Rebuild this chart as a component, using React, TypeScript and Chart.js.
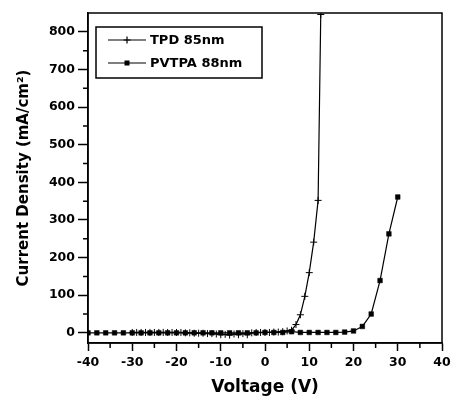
import React, { useEffect, useRef } from "react";
import { Chart, registerables } from "chart.js";

Chart.register(...registerables);

const tpdVoltage = [-30,-29,-28,-27,-26,-25,-24,-23,-22,-21,-20,-19,-18,-17,-16,-15,-14,-13,-12,-11,-10,-9,-8,-7,-6,-5,-4,-3,-2,-1,0,1,2,3,4,5,6,7,8,9,10,11,12,12.6];
const tpdCurrent = [1,1,1,1,1,1,1,1,1,1,1,1,0,0,-1,-1,-1,-2,-2,-3,-5,-4,-6,-3,-5,-2,-5,0,1,1,1,1,2,2,3,5,7,22,48,97,160,241,352,846];

const pvtpaVoltage = [-40,-38,-36,-34,-32,-30,-28,-26,-24,-22,-20,-18,-16,-14,-12,-10,-8,-6,-4,-2,0,2,4,6,8,10,12,14,16,18,20,22,24,26,28,30];
const pvtpaCurrent = [0,0,0,0,0,0,0,0,0,0,0,0,0,0,0,0,0,0,0,0,1,1,1,3,1,1,1,1,1,2,5,17,50,139,263,361];

const xTicks = [-40,-30,-20,-10,0,10,20,30,40];
const xMinorTicks = [-35,-25,-15,-5,5,15,25,35];
const yTicks = [0,100,200,300,400,500,600,700,800];
const yMinorTicks = [50,150,250,350,450,550,650,750];

const seriesNames = ["TPD 85nm", "PVTPA 88nm"];

const FONT = "DejaVu Sans";

const framePlugin = {
  id: "frame",
  afterDraw(chart: any) {
    const { ctx, chartArea, scales } = chart;
    const { left, right, top, bottom } = chartArea;
    ctx.save();
    ctx.strokeStyle = "#000";
    ctx.lineWidth = 1.5;
    ctx.strokeRect(left, top, right - left, bottom - top);
    ctx.beginPath();
    for (const v of xMinorTicks) {
      const px = scales.x.getPixelForValue(v);
      ctx.moveTo(px, bottom);
      ctx.lineTo(px, bottom + 5);
    }
    for (const v of yMinorTicks) {
      const py = scales.y.getPixelForValue(v);
      ctx.moveTo(left, py);
      ctx.lineTo(left - 5, py);
    }
    ctx.stroke();

    // legend
    const bx = 96, by = 27, bw = 166, bh = 51;
    ctx.lineWidth = 1.5;
    ctx.strokeRect(bx, by, bw, bh);
    ctx.font = `bold 13px "${FONT}"`;
    ctx.fillStyle = "#000";
    ctx.textBaseline = "middle";
    const rows = [40, 63];
    rows.forEach((ry, i) => {
      ctx.lineWidth = 1.2;
      ctx.beginPath();
      ctx.moveTo(108, ry);
      ctx.lineTo(146, ry);
      ctx.stroke();
      if (i === 0) {
        ctx.beginPath();
        ctx.moveTo(127, ry - 3.5);
        ctx.lineTo(127, ry + 3.5);
        ctx.moveTo(123.5, ry);
        ctx.lineTo(130.5, ry);
        ctx.stroke();
      } else {
        ctx.fillRect(124.5, ry - 2.5, 5, 5);
      }
      ctx.fillText(seriesNames[i], 150, ry + 0.5);
    });
    ctx.restore();
  },
};

export default function App() {
  const ref = useRef<HTMLCanvasElement>(null);
  useEffect(() => {
    document.body.style.margin = "0";
    const chart = new Chart(ref.current!, {
      type: "line",
      data: {
        datasets: [
          {
            label: seriesNames[0],
            data: tpdVoltage.map((x, i) => ({ x, y: tpdCurrent[i] })),
            borderColor: "#000",
            backgroundColor: "#000",
            borderWidth: 1.2,
            pointStyle: "cross",
            pointRadius: 3.5,
            pointBorderWidth: 1,
            tension: 0,
          },
          {
            label: seriesNames[1],
            data: pvtpaVoltage.map((x, i) => ({ x, y: pvtpaCurrent[i] })),
            borderColor: "#000",
            backgroundColor: "#000",
            borderWidth: 1.2,
            pointStyle: "rect",
            pointRadius: 3.3,
            pointBorderWidth: 0.5,
            tension: 0,
          },
        ],
      },
      options: {
        animation: false,
        responsive: false,
        maintainAspectRatio: false,
        layout: { padding: { top: 13, right: 9, left: 0, bottom: 0 } },
        plugins: { legend: { display: false }, tooltip: { enabled: false } },
        scales: {
          x: {
            type: "linear",
            min: -40,
            max: 40,
            afterBuildTicks: (s: any) => {
              s.ticks = xTicks.map((v) => ({ value: v }));
            },
            afterFit: (s: any) => {
              s.height = 55;
              s.paddingLeft = 0;
              s.paddingRight = 0;
            },
            grid: { drawOnChartArea: false, tickLength: 8, tickWidth: 1.5, tickColor: "#000" },
            border: { display: true, color: "#000", width: 1.5 },
            ticks: {
              color: "#000",
              padding: 4,
              maxRotation: 0,
              font: { family: FONT, size: 12.5, weight: "bold" },
            },
            title: {
              display: true,
              text: "Voltage (V)",
              color: "#000",
              font: { family: FONT, size: 17, weight: "bold" },
              padding: { top: 0, bottom: 0 },
            },
          },
          y: {
            type: "linear",
            min: -27,
            max: 850,
            afterBuildTicks: (s: any) => {
              s.ticks = yTicks.map((v) => ({ value: v }));
            },
            afterFit: (s: any) => {
              s.width = 88;
              s.paddingTop = 0;
              s.paddingBottom = 0;
            },
            grid: { drawOnChartArea: false, tickLength: 10, tickWidth: 1.5, tickColor: "#000" },
            border: { display: true, color: "#000", width: 1.5 },
            ticks: {
              color: "#000",
              padding: 3,
              font: { family: FONT, size: 12.5, weight: "bold" },
            },
            title: {
              display: true,
              text: "Current Density (mA/cm²)",
              color: "#000",
              font: { family: FONT, size: 15, weight: "bold" },
              padding: { top: 15, bottom: 0 },
            },
          },
        },
      },
      plugins: [framePlugin],
    } as any);
    return () => chart.destroy();
  }, []);
  return (
    <div style={{ width: 451, height: 398, background: "#fff" }}>
      <canvas ref={ref} width={451} height={398} style={{ width: 451, height: 398, display: "block" }} />
    </div>
  );
}
